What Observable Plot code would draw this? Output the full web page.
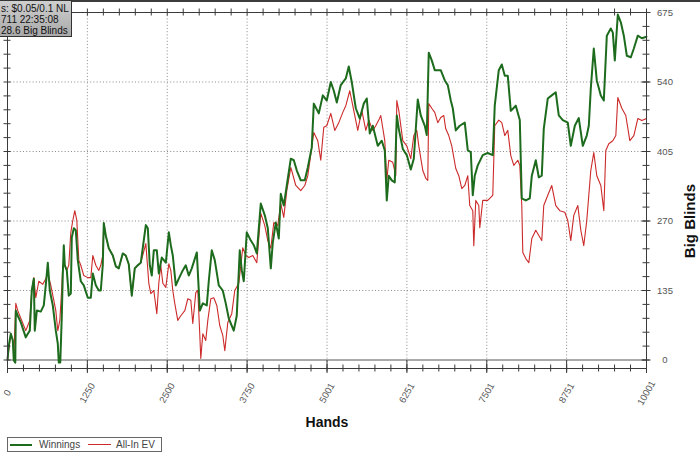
<!DOCTYPE html>
<html>
<head>
<meta charset="utf-8">
<script src="https://cdn.jsdelivr.net/npm/d3@7"></script>
<script src="https://cdn.jsdelivr.net/npm/@observablehq/plot@0.6"></script>
<style>
  body { margin: 0; background: #fff; font-family: "Liberation Sans", Arial, sans-serif; }
  #wrap { position: relative; width: 700px; height: 453px; overflow: hidden; background: #fff; }
  #topline { position: absolute; left: 0; top: 0; width: 700px; height: 2px; background: #3c3c3c; }
  #info { position: absolute; left: -1px; top: 0; width: 73px; height: 37px; overflow: hidden;
          background: linear-gradient(#cfcfcf, #a9a9a9); border: 1px solid #333; box-sizing: border-box; }
  #info div { position: absolute; white-space: nowrap; font-size: 10px; color: #111; line-height: 11px; }
  #legend { position: absolute; left: 7px; top: 437px; width: 155px; height: 15px; box-sizing: border-box;
            border: 1px solid #666; background: #fff; font-size: 10px; color: #444; }
  #legend .sw { position: absolute; }
  #legend .lb { position: absolute; top: 1px; line-height: 11px; white-space: nowrap; }
</style>
</head>
<body>
<div id="wrap">
  <div id="chart"></div>
  <div id="topline"></div>
  <div id="info">
    <div style="left:1px;top:2px">s: $0.05/0.1 NL</div>
    <div style="left:1px;top:13px">711 22:35:08</div>
    <div style="left:1px;top:24px">28.6 Big Blinds</div>
  </div>
  <div id="legend">
    <div class="sw" style="left:2px;width:22px;height:2px;top:6px;background:#1d6b1d"></div>
    <div class="lb" style="left:31px">Winnings</div>
    <div class="sw" style="left:80px;width:23px;height:1px;top:6px;background:#cc2a2a"></div>
    <div class="lb" style="left:108px">All-In EV</div>
  </div>
</div>
<script>
// Winnings (green) — [hands, big blinds]
const winnings = [[0,0],[20,28],[52,51],[83,38],[99,-1],[122,-5],[130,96],[161,86],[208,73],[286,44],[318,51],[349,57],[380,135],[412,158],[427,57],[459,96],[521,94],[568,106],[599,145],[631,189],[662,135],[709,106],[756,57],[787,32],[803,-5],[826,-5],[850,86],[865,164],[881,223],[897,184],[928,174],[959,125],[991,129],[1006,238],[1038,256],[1069,252],[1100,194],[1147,153],[1194,145],[1257,121],[1304,121],[1335,168],[1382,145],[1429,135],[1460,135],[1491,184],[1507,266],[1538,242],[1585,217],[1648,203],[1695,182],[1742,178],[1804,207],[1851,203],[1898,186],[1945,125],[1992,178],[2039,184],[2086,189],[2165,262],[2196,256],[2227,184],[2258,164],[2290,213],[2337,213],[2368,168],[2415,199],[2478,189],[2525,248],[2556,223],[2587,203],[2634,145],[2681,158],[2743,174],[2790,184],[2837,164],[2884,178],[2963,209],[3010,96],[3057,110],[3119,106],[3150,153],[3197,213],[3244,194],[3307,145],[3369,135],[3416,110],[3463,81],[3541,57],[3588,86],[3635,213],[3667,174],[3698,153],[3745,248],[3808,232],[3855,223],[3902,207],[3964,304],[4027,281],[4074,256],[4121,178],[4152,228],[4199,267],[4246,236],[4277,323],[4324,300],[4371,339],[4434,391],[4481,388],[4528,368],[4590,349],[4653,349],[4700,374],[4762,413],[4794,498],[4872,479],[4935,514],[4997,504],[5060,540],[5107,523],[5154,500],[5216,534],[5295,547],[5341,570],[5388,540],[5451,489],[5514,469],[5576,498],[5623,508],[5670,440],[5717,455],[5795,416],[5858,426],[5905,407],[5936,310],[5967,358],[6014,349],[6061,345],[6093,475],[6124,449],[6187,410],[6249,398],[6312,370],[6359,391],[6421,506],[6468,475],[6531,455],[6562,437],[6593,597],[6640,582],[6687,563],[6781,563],[6844,543],[6891,534],[6938,504],[6969,489],[7016,446],[7078,455],[7157,461],[7204,407],[7251,404],[7282,320],[7313,358],[7360,378],[7438,398],[7516,402],[7595,398],[7626,494],[7689,563],[7736,574],[7783,552],[7830,552],[7877,484],[7955,494],[8018,466],[8049,314],[8112,310],[8174,314],[8206,358],[8268,388],[8315,355],[8362,358],[8393,449],[8456,508],[8518,514],[8581,520],[8628,475],[8691,466],[8769,461],[8816,416],[8879,455],[8941,470],[9004,416],[9066,436],[9098,455],[9129,527],[9176,605],[9223,543],[9286,514],[9333,504],[9380,630],[9442,644],[9474,636],[9505,582],[9552,671],[9599,656],[9646,630],[9693,591],[9756,588],[9803,605],[9865,630],[9928,625],[10001,628]];

// All-In EV (red) — [hands, big blinds]
const allInEV = [[0,0],[52,51],[83,38],[99,9],[130,110],[161,96],[208,81],[286,57],[318,67],[349,77],[380,135],[412,160],[443,121],[490,153],[552,147],[599,158],[631,168],[678,145],[725,116],[756,96],[787,57],[819,77],[850,141],[865,184],[897,184],[928,174],[959,184],[991,248],[1022,271],[1053,290],[1085,271],[1116,194],[1147,184],[1194,164],[1257,160],[1304,160],[1335,203],[1382,184],[1429,174],[1460,184],[1491,203],[1507,266],[1538,242],[1585,217],[1648,203],[1695,182],[1742,178],[1804,207],[1851,203],[1898,186],[1945,125],[1992,178],[2039,184],[2086,189],[2165,226],[2212,149],[2243,129],[2290,135],[2337,90],[2368,149],[2399,184],[2431,149],[2478,141],[2525,187],[2556,174],[2587,135],[2618,110],[2665,77],[2712,86],[2775,96],[2822,119],[2869,116],[2900,71],[2947,131],[2978,135],[3010,48],[3025,3],[3057,51],[3103,38],[3135,77],[3182,119],[3229,121],[3276,106],[3322,67],[3369,48],[3401,18],[3448,73],[3510,90],[3557,135],[3620,149],[3682,218],[3730,203],[3776,199],[3839,203],[3902,189],[3964,285],[4027,261],[4074,232],[4121,217],[4168,267],[4230,261],[4277,304],[4324,277],[4371,329],[4434,374],[4512,339],[4590,329],[4653,339],[4700,358],[4762,413],[4794,442],[4856,426],[4903,388],[4950,452],[4997,455],[5060,479],[5122,446],[5185,461],[5248,481],[5295,494],[5357,523],[5404,494],[5482,446],[5545,485],[5608,446],[5655,466],[5717,446],[5764,455],[5811,466],[5842,475],[5905,426],[5936,349],[5967,388],[6030,384],[6077,358],[6093,504],[6124,485],[6187,426],[6249,416],[6312,391],[6359,436],[6406,446],[6437,416],[6500,368],[6547,353],[6578,349],[6593,498],[6640,489],[6687,481],[6734,461],[6781,471],[6828,475],[6859,449],[6906,436],[6953,416],[7016,372],[7063,358],[7110,333],[7157,339],[7204,358],[7235,300],[7282,290],[7298,222],[7329,310],[7376,300],[7392,257],[7438,310],[7516,310],[7595,320],[7626,455],[7689,466],[7736,461],[7783,436],[7830,446],[7877,397],[7924,378],[7987,388],[8018,378],[8049,300],[8065,209],[8112,197],[8159,189],[8206,236],[8268,252],[8315,242],[8362,232],[8393,300],[8456,320],[8518,339],[8581,300],[8644,290],[8722,287],[8769,271],[8816,232],[8863,281],[8926,300],[8973,252],[9019,222],[9066,271],[9098,320],[9129,368],[9176,403],[9223,358],[9286,339],[9333,290],[9364,407],[9411,420],[9474,426],[9521,436],[9552,510],[9615,489],[9677,475],[9740,426],[9803,436],[9865,469],[9928,465],[10001,469]];

// Axis ticks and labels
const xTickValues = [0, 1250, 2500, 3750, 5001, 6251, 7501, 8751, 10001];
const xTickLabels = ["0", "1250", "2500", "3750", "5001", "6251", "7501", "8751", "10001"];
const yTickValues = [0, 135, 270, 405, 540, 675];
const yTickLabels = ["0", "135", "270", "405", "540", "675"];
const yGridValues = [135, 270, 405, 540];
const xMinorStep = 10001 / 40;
const yMinorStep = 27;

const xMin = 0, xMax = 10001, yMin = -16.5, yMax = 675;
const xMinor = d3.range(0, 41).map(i => i * xMinorStep);
const yMinor = d3.range(0, 26).map(i => i * yMinorStep);

const toRows = arr => arr.map(([hand, bb]) => ({hand, bb}));
const font = '"Liberation Sans", Arial, sans-serif';
const gridStyle = {stroke: "#8a8a8a", strokeDasharray: "1,2.2", strokeWidth: 1};
const tickStyle = {stroke: "#3a3a3a", strokeWidth: 1};

const chart = Plot.plot({
  width: 700,
  height: 432,
  marginTop: 12,
  marginLeft: 7,
  marginRight: 54,
  marginBottom: 64,
  style: {fontFamily: font, background: "white", overflow: "visible"},
  x: {domain: [xMin, xMax], axis: null},
  y: {domain: [yMin, yMax], axis: null},
  marks: [
    Plot.ruleX(xTickValues.slice(1, -1), {x: d => d, ...gridStyle}),
    Plot.ruleY(yGridValues, {y: d => d, ...gridStyle}),
    Plot.ruleY([0], {y: d => d, stroke: "#8e8e8e", strokeWidth: 1.6}),
    Plot.line(toRows(allInEV), {x: "hand", y: "bb", stroke: "#cc2a2a", strokeWidth: 1.1}),
    Plot.line(toRows(winnings), {x: "hand", y: "bb", stroke: "#1d6b1d", strokeWidth: 2}),
    Plot.frame({stroke: "#3a3a3a"}),
    // tick marks on all four sides
    Plot.ruleX(xMinor, {x: d => d, y1: yMin, y2: yMin, insetTop: -3.5, insetBottom: -3.5, ...tickStyle}),
    Plot.ruleX(xTickValues, {x: d => d, y1: yMin, y2: yMin, insetTop: -8, insetBottom: -5, ...tickStyle}),
    Plot.ruleX(xMinor, {x: d => d, y1: yMax, y2: yMax, insetTop: -3.5, insetBottom: -3.5, ...tickStyle}),
    Plot.ruleY(yMinor, {y: d => d, x1: xMin, x2: xMin, insetLeft: -3.5, insetRight: -3.5, ...tickStyle}),
    Plot.ruleY(yMinor, {y: d => d, x1: xMax, x2: xMax, insetLeft: -3.5, insetRight: -3.5, ...tickStyle}),
    Plot.ruleY(yTickValues, {y: d => d, x1: xMax, x2: xMax, insetLeft: -4.5, insetRight: -4.5, ...tickStyle}),
    // tick labels
    Plot.text(xTickValues, {x: d => d, y: yMin, text: (d, i) => xTickLabels[i], rotate: -60, dy: 24.5,
      textAnchor: "middle", lineAnchor: "middle", fontSize: 9.5, fill: "#555"}),
    Plot.text(yTickValues, {x: xMax, y: d => d, text: (d, i) => yTickLabels[i], dx: 18.5,
      textAnchor: "middle", lineAnchor: "middle", fontSize: 9.5, fill: "#555"}),
    // axis titles
    Plot.text(["Hands"], {frameAnchor: "bottom", dy: 54, text: d => d, fontWeight: "bold", fontSize: 14,
      fill: "#111", lineAnchor: "middle"}),
    Plot.text(["Big Blinds"], {frameAnchor: "right", dx: 43.5, dy: -6.5, rotate: -90, text: d => d,
      fontWeight: "bold", fontSize: 15, fill: "#111", lineAnchor: "middle"})
  ]
});
document.getElementById("chart").appendChild(chart);
</script>
</body>
</html>
